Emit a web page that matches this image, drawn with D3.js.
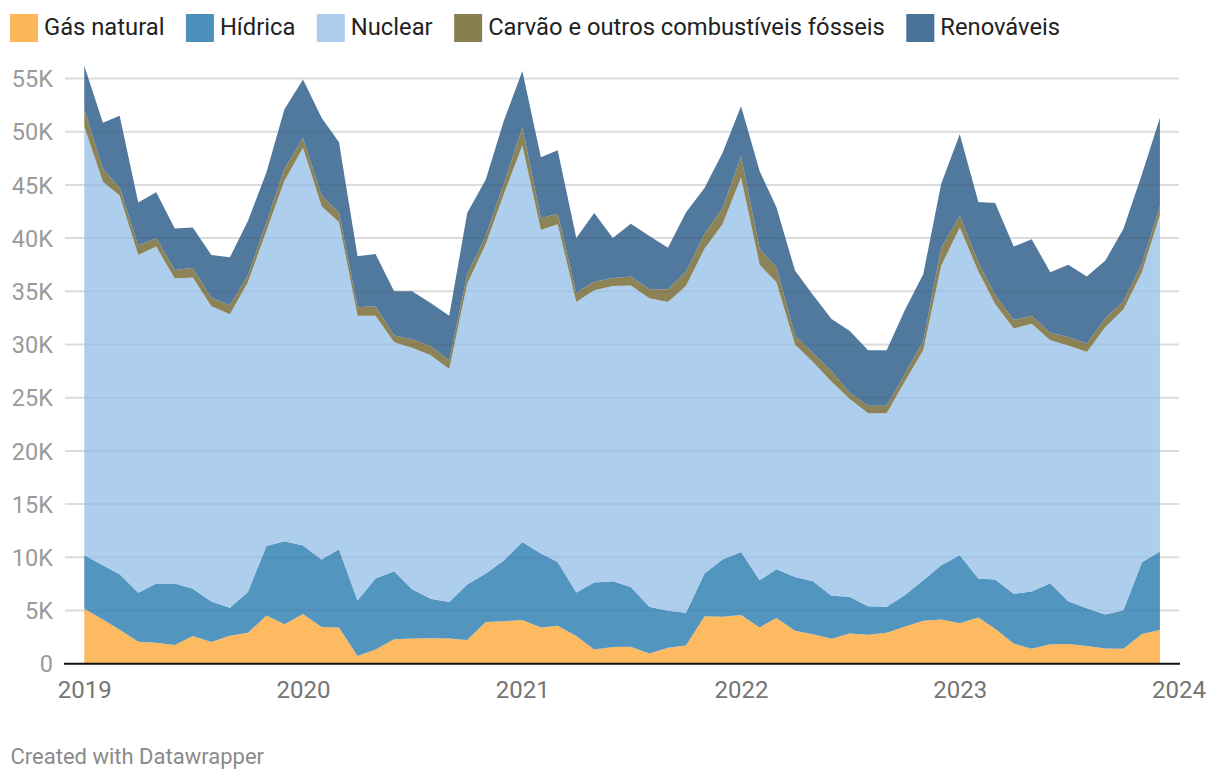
<!DOCTYPE html>
<html>
<head>
<meta charset="utf-8">
<script src="https://cdn.jsdelivr.net/npm/d3@7"></script>
<style>
  html, body { margin: 0; padding: 0; background: #fff; }
  svg { display: block; font-family: Roboto, "Noto Sans", sans-serif; }
</style>
</head>
<body>
<svg id="chart" width="1220" height="780"></svg>
<script>
// ---- Data (GWh per month, Jan 2019 – Dec 2023) ----
const months = d3.timeMonths(new Date(2019, 0, 1), new Date(2024, 0, 1));

const seriesNames = ["Gás natural", "Hídrica", "Nuclear", "Carvão e outros combustíveis fósseis", "Renováveis"];
const seriesColors = ["#fdb75b", "#4b91bc", "#abcced", "#877f50", "#4a7399"];

const gasNatural = [5160,4160,3200,2070,1970,1750,2600,2030,2630,2900,4530,3700,
  4660,3440,3410,720,1340,2300,2380,2400,2380,2220,3910,3980,
  4100,3410,3570,2600,1340,1570,1600,970,1500,1720,4470,4410,
  4570,3410,4300,3100,2760,2350,2850,2730,2900,3470,4040,4160,
  3790,4350,3290,1900,1400,1820,1850,1660,1440,1400,2780,3160];

const hidrica = [5040,5100,5200,4590,5570,5790,4440,3820,2620,3850,6540,7800,
  6440,6360,7340,5230,6660,6400,4620,3700,3420,5220,4560,5720,
  7340,6940,6000,4100,6290,6190,5600,4380,3470,3080,4000,5390,
  5930,4440,4580,5060,5000,4030,3450,2680,2450,2970,3810,5100,
  6410,3650,4620,4670,5390,5750,4030,3560,3190,3630,6760,7380];

const nuclear = [40300,36040,35600,31740,31660,28660,29260,27750,27600,29100,29630,33900,
  37400,33200,30750,26750,24700,21500,22700,22900,21900,28260,30980,34400,
  37260,30400,31730,27300,27470,27740,28350,29000,29030,30700,30530,31500,
  35200,29650,26970,21840,20590,20120,18600,18140,18200,20060,21600,28140,
  30800,28850,25890,24930,25160,22830,24020,24080,27020,28270,27260,31660];

const carvao = [1600,1200,750,900,800,800,900,800,850,650,800,1100,
  900,1000,900,800,900,650,800,850,800,900,750,1000,
  1700,1150,1000,850,800,750,850,850,1200,1350,1400,1500,
  2000,1500,1400,850,850,1000,600,700,700,700,850,1700,
  1100,850,850,800,750,700,800,800,850,750,800,800];

const renovaveis = [4100,4350,6750,4050,4300,3900,3800,4000,4500,5100,4700,5600,
  5500,7300,6600,4800,4900,4150,4500,4050,4200,5750,5300,5900,
  5300,5700,5950,5150,6450,3750,4950,5000,3900,5550,4300,5200,
  4700,7300,5650,6100,5450,4900,5800,5200,5200,6000,6300,6000,
  7650,5700,8650,6900,7200,5700,6800,6300,5400,6800,8400,8300];

const yTicks = [0,5000,10000,15000,20000,25000,30000,35000,40000,45000,50000,55000];
const xTickYears = [2019,2020,2021,2022,2023,2024];

// ---- Build table ----
const seriesValues = [gasNatural, hidrica, nuclear, carvao, renovaveis];
const table = months.map((m, i) => {
  const row = { date: m };
  seriesNames.forEach((k, j) => row[k] = seriesValues[j][i]);
  return row;
});

const svg = d3.select("#chart");

const x = d3.scaleTime()
  .domain([new Date(2019, 0, 1), new Date(2024, 0, 1)])
  .range([84.3, 1178.5]);
const y = d3.scaleLinear().domain([0, 55000]).range([663.7, 78.5]);

const stack = d3.stack().keys(seriesNames);
const stacked = stack(table);

const area = d3.area()
  .x(d => x(d.data.date))
  .y0(d => y(d[0]))
  .y1(d => y(d[1]));

// gridlines
const grid = svg.append("g");
grid.selectAll("line").data(yTicks.filter(t => t > 0)).join("line")
  .attr("x1", 65).attr("x2", 1179)
  .attr("y1", d => y(d)).attr("y2", d => y(d))
  .attr("stroke", "#e3e3e3").attr("stroke-width", 2);

// areas
svg.append("g").selectAll("path").data(stacked).join("path")
  .attr("d", area)
  .attr("fill", (d, i) => seriesColors[i])
  .attr("fill-opacity", 0.96);

// faint gridlines over areas
svg.append("g").selectAll("line").data(yTicks.filter(t => t > 0)).join("line")
  .attr("x1", 65).attr("x2", 1179)
  .attr("y1", d => y(d)).attr("y2", d => y(d))
  .attr("stroke", "#000").attr("stroke-opacity", 0.035).attr("stroke-width", 2);

// baseline
svg.append("line")
  .attr("x1", 64).attr("x2", 1180)
  .attr("y1", y(0)).attr("y2", y(0))
  .attr("stroke", "#111").attr("stroke-width", 2);

// y axis labels
const yAxis = d3.axisLeft(y).tickValues(yTicks)
  .tickFormat(d => d === 0 ? "0" : (d / 1000) + "K")
  .tickSize(0).tickPadding(0);
const yg = svg.append("g").attr("transform", "translate(53,0)").call(yAxis);
yg.select(".domain").remove();
yg.selectAll("text")
  .attr("fill", "#9a9a9a")
  .style("font-size", "23.5px")
  .style("font-family", "Roboto, sans-serif")
  .attr("dy", "0.35em");

// x axis labels
const xAxis = d3.axisBottom(x)
  .tickValues(xTickYears.map(yr => new Date(yr, 0, 1)))
  .tickFormat(d3.timeFormat("%Y"))
  .tickSize(0).tickPadding(0);
const xg = svg.append("g").attr("transform", "translate(0,698.3)").call(xAxis);
xg.select(".domain").remove();
xg.selectAll("text")
  .attr("fill", "#757575")
  .attr("dy", "0")
  .attr("y", 0)
  .style("font-size", "24px")
  .style("font-family", "Roboto, sans-serif");

// legend
const legend = svg.append("g");
let lx = 10;
seriesNames.forEach((name, i) => {
  legend.append("rect")
    .attr("x", lx).attr("y", 14).attr("width", 28).attr("height", 28)
    .attr("fill", seriesColors[i]);
  const t = legend.append("text")
    .attr("x", lx + 34).attr("y", 34.5)
    .attr("fill", "#222")
    .style("font-size", "23.75px")
    .text(name);
  lx += 34 + t.node().getComputedTextLength() + 21.5;
});

// footer
svg.append("text")
  .attr("x", 10.5).attr("y", 764)
  .attr("fill", "#8a8a8a")
  .style("font-size", "22px")
  .text("Created with Datawrapper");
</script>
</body>
</html>
